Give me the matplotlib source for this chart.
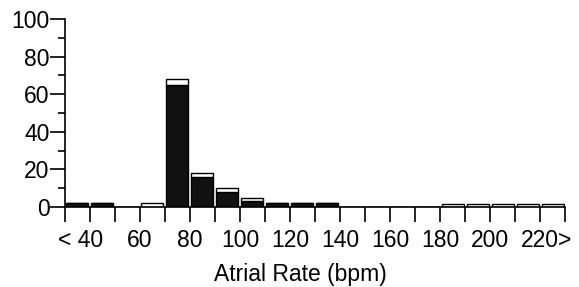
import numpy as np
import matplotlib.pyplot as plt
from matplotlib.transforms import ScaledTranslation

plt.rcParams['font.family'] = ['Liberation Sans', 'DejaVu Sans']

# bin left edges (bpm), 10 bpm wide
bin_left = np.arange(30, 230, 10)
# black (lower) part and open (upper) part of each bar, in %
black = [2, 2, 0, 0, 65, 16, 8, 3, 2, 2, 2, 0, 0, 0, 0, 0, 0, 0, 0, 0]
open_part = [0, 0, 0, 2, 3, 2, 2, 1.8, 0, 0, 0, 0, 0, 0, 0, 1.6, 1.6, 1.6, 1.6, 1.6]

tick_pos = [40, 60, 80, 100, 120, 140, 160, 180, 200, 220]
tick_lab = ['< 40', '60', '80', '100', '120', '140', '160', '180', '200', '220>']

fig = plt.figure(figsize=(5.79, 2.87), dpi=100)
ax = fig.add_axes([0.112, 0.279, 0.864, 0.655])

w = 8.8
ax.bar(bin_left + 5, black, width=w, color='#111111', edgecolor='black', linewidth=1.0)
ax.bar(bin_left + 5, open_part, bottom=black, width=w, color='white',
       edgecolor='black', linewidth=1.0)

ax.set_xlim(30, 230)
ax.set_ylim(0, 100)
for s in ['top', 'right']:
    ax.spines[s].set_visible(False)
ax.spines['left'].set_linewidth(1.2)
ax.spines['bottom'].set_linewidth(1.2)

# x ticks at every bin edge, labels only every 20
edges = np.arange(30, 240, 10)
ax.set_xticks(edges)
labels = [tick_lab[tick_pos.index(e)] if e in tick_pos else '' for e in edges]
ax.set_xticklabels(labels, fontsize=16.5)
ax.tick_params(axis='x', length=11, width=1.2, pad=5)

ax.set_yticks(np.arange(0, 101, 20))
ax.set_yticks(np.arange(10, 100, 20), minor=True)
ax.tick_params(axis='y', which='major', length=11, width=1.2, labelsize=16.5, pad=0)
ax.tick_params(axis='y', which='minor', length=5, width=1.2)

# shift the '< 40' and '220>' labels so the numbers sit on their ticks
for lab in ax.get_xticklabels():
    if lab.get_text() == '< 40':
        lab.set_transform(lab.get_transform() + ScaledTranslation(-9 / 100, 0, fig.dpi_scale_trans))
    elif lab.get_text() == '220>':
        lab.set_transform(lab.get_transform() + ScaledTranslation(6 / 100, 0, fig.dpi_scale_trans))

ax.set_xlabel('Atrial Rate (bpm)', fontsize=16.5, labelpad=3)
ax.xaxis.set_label_coords(0.47, -0.3)

fig.savefig('out.png', dpi=100)
